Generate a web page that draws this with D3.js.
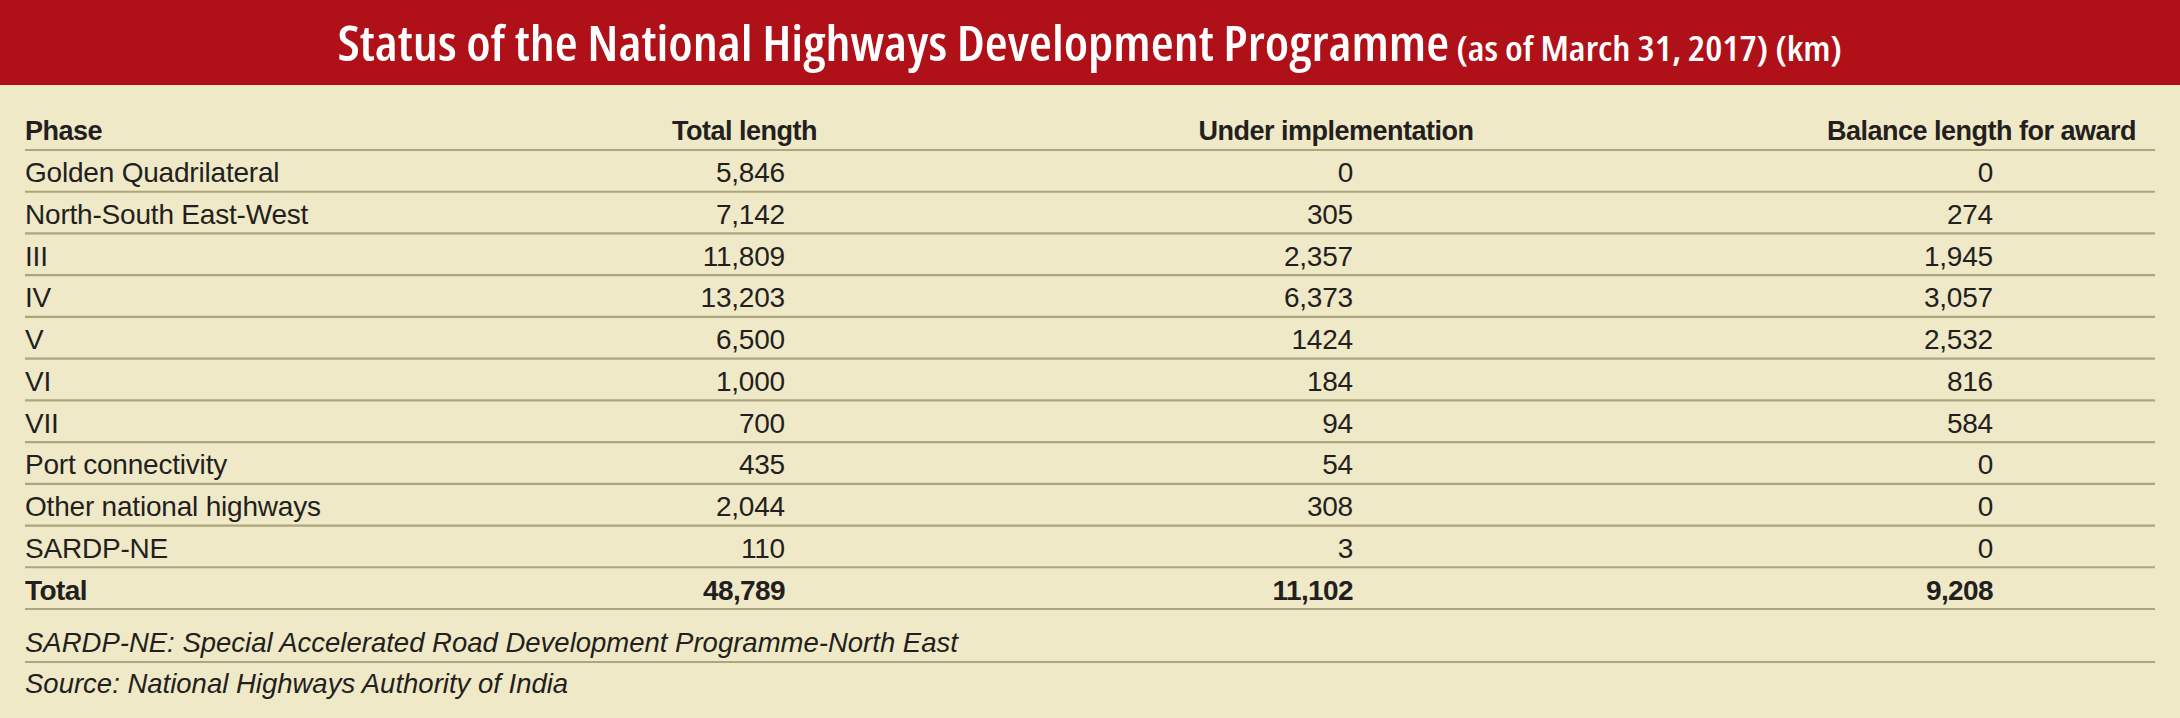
<!DOCTYPE html>
<html>
<head>
  <meta charset="utf-8">
  <script src="https://cdn.jsdelivr.net/npm/d3@7"></script>
  <style>
    body { margin: 0; background: #efe9c7; }
    svg text { fill: #231f20; }
  </style>
</head>
<body>
  <div id="chart"></div>
  <script>
    var w = 2180;
    var h = 718;

    // table data
    var phases = ["Golden Quadrilateral", "North-South East-West", "III", "IV", "V",
                  "VI", "VII", "Port connectivity", "Other national highways", "SARDP-NE"];
    var totalLength = [5846, 7142, 11809, 13203, 6500, 1000, 700, 435, 2044, 110];
    var underImplementation = [0, 305, 2357, 6373, 1424, 184, 94, 54, 308, 3];
    var balanceForAward = [0, 274, 1945, 3057, 2532, 816, 584, 0, 0, 0];
    var columnTitles = ["Phase", "Total length", "Under implementation", "Balance length for award"];
    var footnotes = ["SARDP-NE: Special Accelerated Road Development Programme-North East",
                     "Source: National Highways Authority of India"];
    // the source prints this one cell without a thousands separator
    var noSeparator = ["V|1"];

    var fmt = d3.format(",");
    var cellText = function(v, row, col) {
      return noSeparator.indexOf(row + "|" + col) >= 0 ? String(v) : fmt(v);
    };

    var svg = d3.select("#chart").append("svg")
        .attr("width", w)
        .attr("height", h);

    svg.append("rect").attr("width", w).attr("height", h).attr("fill", "#efe9c7");

    // red title band
    svg.append("rect")
        .attr("width", w)
        .attr("height", 85)
        .attr("fill", "#b01018");

    var title = svg.append("text")
        .attr("y", 61)
        .style("font-family", "'Open Sans', 'Liberation Sans', sans-serif")
        .style("font-weight", 600)
        .style("font-stretch", "80%")
        .style("fill", "#fff");
    title.append("tspan").style("font-size", "48px")
        .text("Status of the National Highways Development Programme");
    title.append("tspan").style("font-size", "35px")
        .text(" (as of March 31, 2017) (km)");
    // fit the title to the width it takes in the original
    var tw = title.node().getComputedTextLength();
    var targetW = 1505;
    var sx = targetW / tw;
    title.attr("transform", "translate(" + (1090 - tw * sx / 2) + ",0) scale(" + sx + ",1)");

    // layout scales
    var rowCount = phases.length + 1; // + total row
    var yLine = d3.scaleLinear().domain([0, rowCount]).range([150, 609]);
    var left = 25, right = 2155;
    var valueRight = d3.scaleOrdinal().domain([1, 2, 3]).range([785, 1353, 1993]);

    var bodyFont = "'Liberation Sans', Arial, sans-serif";

    // header
    var header = svg.append("g")
        .style("font-family", bodyFont)
        .style("font-weight", "bold")
        .style("font-size", "27px")
        .style("letter-spacing", "-0.5px");
    header.append("text").attr("x", left).attr("y", 140).text(columnTitles[0]);
    header.append("text").attr("x", 817).attr("y", 140).attr("text-anchor", "end").text(columnTitles[1]);
    header.append("text").attr("x", 1336).attr("y", 140).attr("text-anchor", "middle").text(columnTitles[2]);
    header.append("text").attr("x", 2136).attr("y", 140).attr("text-anchor", "end").text(columnTitles[3]);

    // rules
    var lines = d3.range(0, rowCount + 1).map(function(k) { return yLine(k); });
    lines.push(662);
    svg.append("g").selectAll("line")
        .data(lines)
        .enter()
        .append("line")
        .attr("x1", left)
        .attr("x2", right)
        .attr("y1", function(d) { return d; })
        .attr("y2", function(d) { return d; })
        .attr("stroke", "#aca67c")
        .attr("stroke-width", 2.2);

    // body rows
    var rows = phases.map(function(p, i) {
      return { name: p, vals: [totalLength[i], underImplementation[i], balanceForAward[i]], bold: false };
    });
    rows.push({
      name: "Total",
      vals: [d3.sum(totalLength), d3.sum(underImplementation), d3.sum(balanceForAward)],
      bold: true
    });

    var rowG = svg.append("g")
        .style("font-family", bodyFont)
        .style("font-size", "28px")
        .selectAll("g")
        .data(rows)
        .enter()
        .append("g")
        .attr("transform", function(d, i) { return "translate(0," + (yLine(i + 1) - 9.5) + ")"; })
        .style("font-weight", function(d) { return d.bold ? "bold" : "normal"; })
        .style("letter-spacing", function(d) { return d.bold ? "-0.6px" : "-0.2px"; });

    rowG.append("text")
        .attr("x", left)
        .text(function(d) { return d.name; });

    rowG.selectAll("text.val")
        .data(function(d) {
          return d.vals.map(function(v, j) { return { v: v, col: j + 1, row: d.name }; });
        })
        .enter()
        .append("text")
        .attr("class", "val")
        .attr("x", function(d) { return valueRight(d.col); })
        .attr("text-anchor", "end")
        .text(function(d) { return cellText(d.v, d.row, d.col - 1); });

    // footnotes
    svg.append("g")
        .style("font-family", bodyFont)
        .style("font-style", "italic")
        .style("font-size", "27.5px")
        .selectAll("text")
        .data(footnotes)
        .enter()
        .append("text")
        .attr("x", left)
        .attr("y", function(d, i) { return 652 + i * 41; })
        .text(function(d) { return d; });
  </script>
</body>
</html>
